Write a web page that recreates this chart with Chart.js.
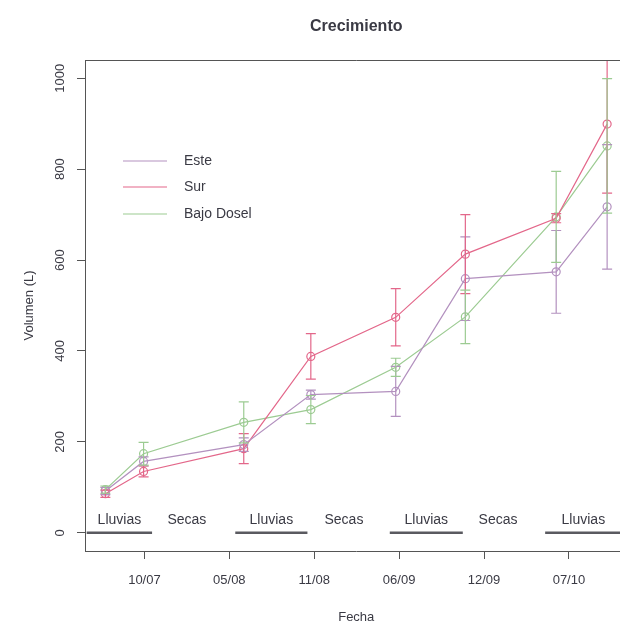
<!DOCTYPE html>
<html>
<head>
<meta charset="utf-8">
<script src="https://cdn.jsdelivr.net/npm/chart.js@4"></script>
<style>
  html, body { margin: 0; padding: 0; background: #fff; overflow: hidden; }
</style>
</head>
<body>
<canvas id="grafico" width="640" height="623"></canvas>
<script>
// etiquetas del eje X (fechas de muestreo)
const fechas = ['10/07', '05/08', '11/08', '06/09', '12/09', '07/10'];
// posición de cada medición sobre el eje X (1 = 10/07, 2 = 05/08, ...)
const posiciones = [0.54, 0.99, 2.17, 2.96, 3.96, 4.78, 5.85, 6.45];

// volumen medio (L) por sitio
const este = [92, 157, 194, 304, 311, 559, 574, 717];
const sur = [86, 135, 185, 388, 474, 613, 692, 899];
const bajoDosel = [95, 174, 243, 271, 364, 475, 695, 851];

// error de cada media
const esteError = [8, 10, 15, 10, 55, 92, 91, 137];
const surError = [8, 12, 33, 50, 63, 87, 10, 152];
const bajoDoselError = [8, 25, 45, 31, 20, 59, 100, 148];

// temporadas marcadas sobre y = 0
const temporadas = ['Lluvias', 'Secas', 'Lluvias', 'Secas', 'Lluvias', 'Secas', 'Lluvias'];
const temporadaInicio = [0.32, 1.15, 2.07, 2.95, 3.89, 4.78, 5.72];
const temporadaFin = [1.09, 1.85, 2.92, 3.75, 4.75, 5.55, 6.62];

const ticksY = [0, 200, 400, 600, 800, 1000];

const colorTexto = '#3a3a44';
const colorEje = '#555';
const fuente = '"Liberation Sans", Arial, sans-serif';

function serie(nombre, valores, errores, color) {
    return {
        label: nombre,
        data: valores.map((v, i) => ({ x: posiciones[i], y: v })),
        errores: errores,
        borderColor: color,
        borderWidth: 1.2,
        pointRadius: 4,
        pointBorderWidth: 1.2,
        pointBackgroundColor: 'rgba(0,0,0,0)',
        pointBorderColor: color,
        tension: 0
    };
}

// barras de error (media ± error) con tapas
const barrasError = {
    id: 'barrasError',
    afterDatasetsDraw(chart) {
        const ctx = chart.ctx;
        const a = chart.chartArea;
        const xs = chart.scales.x, ys = chart.scales.y;
        ctx.save();
        ctx.beginPath();
        ctx.rect(a.left, a.top, a.right - a.left, a.bottom - a.top);
        ctx.clip();
        chart.data.datasets.forEach(ds => {
            ctx.strokeStyle = ds.borderColor;
            ctx.lineWidth = 1.2;
            ds.data.forEach((p, i) => {
                const e = ds.errores[i];
                const x = xs.getPixelForValue(p.x);
                const y1 = ys.getPixelForValue(p.y + e);
                const y2 = ys.getPixelForValue(p.y - e);
                ctx.beginPath();
                ctx.moveTo(x, y1); ctx.lineTo(x, y2);
                ctx.moveTo(x - 5, y1); ctx.lineTo(x + 5, y1);
                ctx.moveTo(x - 5, y2); ctx.lineTo(x + 5, y2);
                ctx.stroke();
            });
        });
        ctx.restore();
    }
};

// títulos, leyenda, etiquetas del eje Y, marco superior y temporadas
const decoracion = {
    id: 'decoracion',
    afterDraw(chart) {
        const ctx = chart.ctx;
        const a = chart.chartArea;
        const xs = chart.scales.x, ys = chart.scales.y;
        ctx.save();

        // marco superior
        ctx.strokeStyle = colorEje;
        ctx.lineWidth = 1;
        ctx.beginPath();
        ctx.moveTo(a.left, a.top + 0.5);
        ctx.lineTo(a.right, a.top + 0.5);
        ctx.stroke();

        ctx.fillStyle = colorTexto;
        ctx.textAlign = 'center';
        ctx.textBaseline = 'middle';

        // título
        ctx.font = 'bold 16px ' + fuente;
        ctx.fillText('Crecimiento', (a.left + a.right) / 2, 27);

        // eje X
        ctx.font = '13px ' + fuente;
        ctx.fillText('Fecha', (a.left + a.right) / 2, 617);

        // eje Y (rotado como en R)
        ticksY.forEach(v => {
            ctx.save();
            ctx.translate(60, ys.getPixelForValue(v));
            ctx.rotate(-Math.PI / 2);
            ctx.font = '13px ' + fuente;
            ctx.fillText(String(v), 0, 0);
            ctx.restore();
        });
        ctx.save();
        ctx.translate(29, (a.top + a.bottom) / 2);
        ctx.rotate(-Math.PI / 2);
        ctx.font = '13px ' + fuente;
        ctx.fillText('Volumen (L)', 0, 0);
        ctx.restore();

        // temporadas
        const y0 = ys.getPixelForValue(0);
        ctx.font = '14px ' + fuente;
        temporadas.forEach((t, i) => {
            const x1 = xs.getPixelForValue(temporadaInicio[i]);
            const x2 = xs.getPixelForValue(temporadaFin[i]);
            ctx.fillText(t, (x1 + x2) / 2, y0 - 13);
            if (t === 'Lluvias') {
                ctx.strokeStyle = '#5a5a60';
                ctx.lineWidth = 2.5;
                ctx.beginPath();
                ctx.moveTo(x1, y0);
                ctx.lineTo(x2, y0);
                ctx.stroke();
            }
        });

        // leyenda
        const filas = [161, 187, 214];
        ctx.textAlign = 'left';
        ctx.font = '14px ' + fuente;
        chart.data.datasets.forEach((ds, i) => {
            ctx.strokeStyle = ds.borderColor;
            ctx.lineWidth = 1.2;
            ctx.beginPath();
            ctx.moveTo(123, filas[i]);
            ctx.lineTo(167, filas[i]);
            ctx.stroke();
            ctx.fillStyle = colorTexto;
            ctx.fillText(ds.label, 184, filas[i]);
        });

        ctx.restore();
    }
};

new Chart(document.getElementById('grafico'), {
    type: 'line',
    data: {
        datasets: [
            serie('Este', este, esteError, '#b391bf'),
            serie('Sur', sur, surError, '#e3678a'),
            serie('Bajo Dosel', bajoDosel, bajoDoselError, '#9ccb92')
        ]
    },
    options: {
        responsive: false,
        animation: false,
        devicePixelRatio: 1,
        layout: { padding: { top: 60, left: 0, right: 12.5, bottom: 0 } },
        plugins: {
            legend: { display: false },
            title: { display: false },
            tooltip: { enabled: false }
        },
        scales: {
            x: {
                type: 'linear',
                min: 0.30,
                max: 6.69,
                afterBuildTicks: s => { s.ticks = fechas.map((f, i) => ({ value: i + 1 })); },
                afterFit: s => { s.height = 72; },
                ticks: {
                    callback: (v, i) => fechas[i],
                    color: colorTexto,
                    font: { size: 13, family: fuente },
                    padding: 14,
                    maxRotation: 0,
                    autoSkip: false
                },
                grid: { drawOnChartArea: false, tickLength: 8, color: colorEje },
                border: { color: colorEje, width: 1 }
            },
            y: {
                min: -40,
                max: 1040,
                afterBuildTicks: s => { s.ticks = ticksY.map(v => ({ value: v })); },
                afterFit: s => { s.width = 85; },
                ticks: { display: false },
                grid: { drawOnChartArea: false, tickLength: 8, color: colorEje },
                border: { color: colorEje, width: 1 }
            }
        }
    },
    plugins: [barrasError, decoracion]
});
</script>
</body>
</html>
